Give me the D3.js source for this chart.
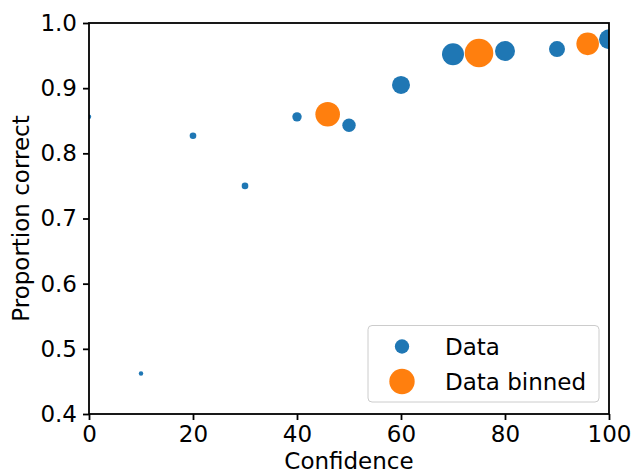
<!DOCTYPE html>
<html>
<head>
<meta charset="utf-8">
<script src="https://cdn.jsdelivr.net/npm/d3@7"></script>
<style>
  html, body { margin: 0; padding: 0; background: #fff; }
  svg { display: block; font-family: "DejaVu Sans", sans-serif; }
</style>
</head>
<body>
<svg id="chart" width="635" height="473"></svg>
<script>
// ---- data ----
const dataConfidence = [0, 10, 20, 30, 40, 50, 60, 70, 80, 90, 100];
const dataProportion = [0.856, 0.462, 0.827, 0.750, 0.856, 0.843, 0.905, 0.952, 0.957, 0.960, 0.975];
const dataCount      = [5, 5, 11, 11, 22, 45, 81, 121, 100, 64, 100];

const binnedConfidence = [45.9, 75.0, 95.9];
const binnedProportion = [0.860, 0.954, 0.968];
const binnedCount      = [151, 204, 128];

const xTicks = [0, 20, 40, 60, 80, 100];
const yTicks = [0.4, 0.5, 0.6, 0.7, 0.8, 0.9, 1.0];
const seriesNames = ["Data", "Data binned"];
const seriesColors = ["#1f77b4", "#ff7f0e"];

// ---- layout ----
const svg = d3.select("#chart");
const margin = { left: 89, right: 26, top: 23, bottom: 59 };
const W = 635, H = 473;
const x = d3.scaleLinear().domain([0, 100]).range([margin.left, W - margin.right]);
const y = d3.scaleLinear().domain([0.4, 1.0]).range([H - margin.bottom, margin.top]);
const r = d3.scaleSqrt().domain([0, 1]).range([0, 1]);
const fontSize = 23;

svg.append("defs").append("clipPath").attr("id", "clip")
  .append("rect")
  .attr("x", x(0)).attr("y", y(1.0))
  .attr("width", x(100) - x(0)).attr("height", y(0.4) - y(1.0));

const plot = svg.append("g").attr("clip-path", "url(#clip)");

const blue = dataConfidence.map((c, i) => ({ x: c, y: dataProportion[i], n: dataCount[i] }));
const orange = binnedConfidence.map((c, i) => ({ x: c, y: binnedProportion[i], n: binnedCount[i] }));

plot.selectAll("circle.data").data(blue).join("circle")
  .attr("class", "data")
  .attr("cx", d => x(d.x)).attr("cy", d => y(d.y)).attr("r", d => r(d.n))
  .attr("fill", seriesColors[0]);

plot.selectAll("circle.binned").data(orange).join("circle")
  .attr("class", "binned")
  .attr("cx", d => x(d.x)).attr("cy", d => y(d.y)).attr("r", d => r(d.n))
  .attr("fill", seriesColors[1]);

// ---- axes ----
const xAxis = d3.axisBottom(x).tickValues(xTicks).tickSize(6).tickPadding(6).tickFormat(d3.format("d"));
const yAxis = d3.axisLeft(y).tickValues(yTicks).tickSize(6).tickPadding(6).tickFormat(d3.format(".1f"));

const gx = svg.append("g").attr("transform", `translate(0,${y(0.4)})`).call(xAxis);
const gy = svg.append("g").attr("transform", `translate(${x(0)},0)`).call(yAxis);
[gx, gy].forEach(g => {
  g.select(".domain").remove();
  g.selectAll(".tick line").attr("stroke", "#000").attr("stroke-width", 1.8);
  g.selectAll(".tick text").attr("fill", "#000").style("font-size", fontSize + "px")
    .style("font-family", "'DejaVu Sans', sans-serif");
});
gx.selectAll(".tick text").attr("dy", "0.68em");

// frame (spines)
svg.append("rect")
  .attr("x", x(0)).attr("y", y(1.0))
  .attr("width", x(100) - x(0)).attr("height", y(0.4) - y(1.0))
  .attr("fill", "none").attr("stroke", "#000").attr("stroke-width", 1.8);

// axis labels
svg.append("text")
  .attr("x", (x(0) + x(100)) / 2).attr("y", 469)
  .attr("text-anchor", "middle").style("font-size", fontSize + "px")
  .text("Confidence");

svg.append("text")
  .attr("transform", `translate(29,${(y(0.4) + y(1.0)) / 2}) rotate(-90)`)
  .attr("text-anchor", "middle").style("font-size", fontSize + "px")
  .text("Proportion correct");

// ---- legend ----
const legend = svg.append("g");
legend.append("rect")
  .attr("x", 368).attr("y", 325.5).attr("width", 231).attr("height", 76.5)
  .attr("rx", 4).attr("ry", 4)
  .attr("fill", "#fff").attr("fill-opacity", 0.8)
  .attr("stroke", "#cccccc").attr("stroke-width", 1);

const legendSizes = [d3.mean(dataCount), d3.mean(binnedCount)];
seriesNames.forEach((name, i) => {
  const cy = 346.5 + i * 35;
  legend.append("circle").attr("cx", 402).attr("cy", cy).attr("r", r(legendSizes[i]))
    .attr("fill", seriesColors[i]);
  legend.append("text").attr("x", 445).attr("y", cy).attr("dy", "0.35em")
    .style("font-size", fontSize + "px").text(name);
});
</script>
</body>
</html>
